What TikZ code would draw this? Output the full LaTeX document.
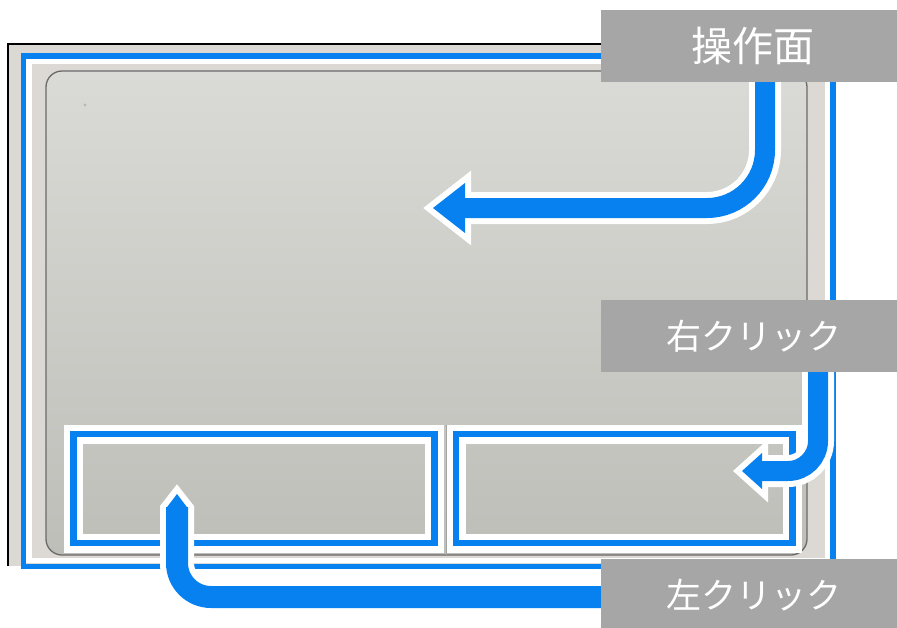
\documentclass[tikz,border=0pt]{standalone}
\usepackage{fontspec}
\newfontfamily\jpfont{Noto Sans CJK JP}
\pgfdeclarelayer{photo}
\pgfdeclarelayer{arrowlayer}
\pgfsetlayers{photo,arrowlayer,main}
\definecolor{mblue}{HTML}{0781EF}
\definecolor{lblgray}{HTML}{A6A6A6}
\definecolor{photobg}{HTML}{DCD9D4}
\definecolor{padtop}{HTML}{DADBD6}
\definecolor{padbot}{HTML}{BEBEB9}
\definecolor{padedge}{HTML}{6A6A6A}
\definecolor{padseam}{HTML}{A4A4A0}
\begin{document}
\begin{tikzpicture}[x=1pt,y=-1pt,
  tagbox/.style={rectangle, fill=lblgray, text=white, minimum width=296pt,
    minimum height=72pt, inner sep=0pt, font=\jpfont\fontsize{35}{40}\selectfont},
  bigtag/.style={font=\jpfont\fontsize{41}{46}\selectfont},
  whiteband/.style={draw=white, line width=#1},
  blueband/.style={draw=mblue, line width=#1},
  headwhite/.style={fill=white, draw=white, line width=12pt, line join=miter, miter limit=10},
  headblue/.style={fill=mblue}
]
\useasboundingbox (0,0) rectangle (897,627);

\begin{pgfonlayer}{photo}
  \fill[photobg] (8,44) rectangle (833,566);
  \draw[black, line width=1.5pt] (8,566) -- (8,44) -- (833,44);
  \shade[top color=padtop, bottom color=padbot, rounded corners=16pt] (46,71) rectangle (807,555);
  \draw[padedge, line width=1.3pt, rounded corners=16pt] (46,71) rectangle (807,555);
  \fill[gray!55] (85,105) circle (1.6);
  \draw[padseam, line width=1pt] (446,425) -- (446,555);
  % outer frame
  \draw[whiteband=5.5pt] (29,61.5) rectangle (827.5,560.5);
  \draw[blueband=5.5pt] (23.5,56) rectangle (833,566.5);
  % buttons
  \draw[whiteband=19pt] (73.5,434) rectangle (434.5,543);
  \draw[blueband=6.5pt] (73.5,434) rectangle (434.5,543);
  \draw[whiteband=19pt] (456,434) rectangle (792.5,543);
  \draw[blueband=6.5pt] (456,434) rectangle (792.5,543);
\end{pgfonlayer}

% labels
\node[tagbox, bigtag] (L1) at (749,46) {\hspace*{8pt}操作面};
\node[tagbox] (L2) at (749,336) {\hspace*{10pt}右クリック};
\node[tagbox] (L3) at (749,595) {\hspace*{10pt}左クリック};

% arrow coordinates
\coordinate (c1) at (765,208);
\coordinate (e1) at (462,208);
\coordinate (t1) at (433,208);
\coordinate (c2) at (818,471);
\coordinate (e2) at (759,471);
\coordinate (t2) at (742,471);
\coordinate (c3) at (177,597);
\coordinate (e3) at (177,507);
\coordinate (t3) at (177,494);

\begin{pgfonlayer}{arrowlayer}
  % white outlines
  \draw[whiteband=32pt, rounded corners=58pt] (L1.south -| c1) -- (c1) -- (e1);
  \filldraw[headwhite] (465,183) -- (t1) -- (465,233) -- cycle;
  \draw[whiteband=32pt, rounded corners=30pt] (L2.south -| c2) -- (c2) -- (e2);
  \filldraw[headwhite] (762,453) -- (t2) -- (762,489) -- cycle;
  \draw[whiteband=34pt, rounded corners=34pt] (L3.west |- c3) -- (c3) -- (e3);
  \fill[white] (160,510) -- (160,506) -- (177,484.3) -- (194,506) -- (194,510) -- cycle;
  % blue arrows
  \draw[blueband=20pt, rounded corners=58pt] (L1.south -| c1) -- (c1) -- (e1);
  \fill[headblue] (465,183) -- (t1) -- (465,233) -- cycle;
  \draw[blueband=20pt, rounded corners=30pt] (L2.south -| c2) -- (c2) -- (e2);
  \fill[headblue] (762,453) -- (t2) -- (762,489) -- cycle;
  \draw[blueband=22pt, rounded corners=34pt] (L3.west |- c3) -- (c3) -- (e3);
  \fill[headblue] (166,508.5) -- (t3) -- (188,508.5) -- cycle;
\end{pgfonlayer}
\end{tikzpicture}
\end{document}
